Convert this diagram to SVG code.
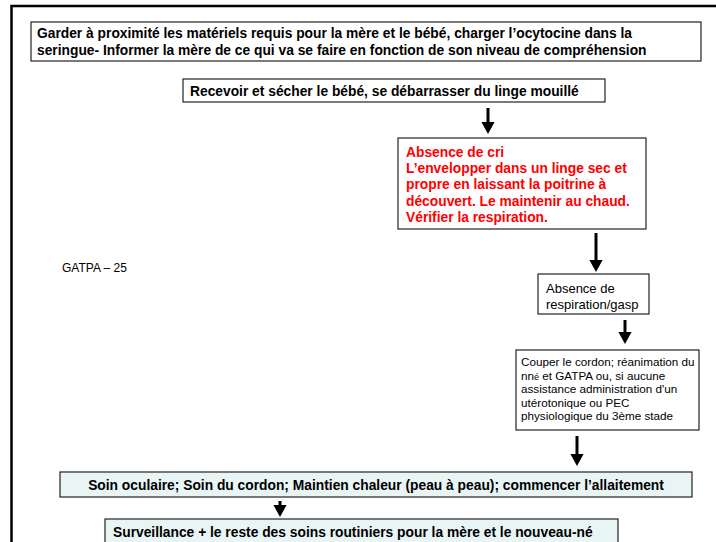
<svg xmlns="http://www.w3.org/2000/svg" width="716" height="542" viewBox="0 0 716 542">
<style>
.box{fill:#fff;stroke:#222;stroke-width:1.2}
.tint{fill:#e9f5f5;stroke:#222;stroke-width:1.2}
.b{font-family:"Liberation Sans",Arial,sans-serif;font-weight:bold;font-size:13.8px;fill:#000}
.r{font-family:"Liberation Sans",Arial,sans-serif;font-weight:bold;font-size:13.8px;fill:#ff0000}
.n{font-family:"Liberation Sans",Arial,sans-serif;font-size:13px;fill:#000}
.s{font-family:"Liberation Sans",Arial,sans-serif;font-size:11.7px;fill:#000}
.g{font-family:"Liberation Sans",Arial,sans-serif;font-size:12px;fill:#000}
.shaft{stroke:#000;stroke-width:3;fill:none}
</style>
<defs>
<marker id="ah" markerWidth="4" markerHeight="4.4" refX="0" refY="2.2" orient="auto" markerUnits="strokeWidth">
<path d="M0,0 L4,2.2 L0,4.4 Z" fill="#000"/>
</marker>
</defs>
<rect x="11.5" y="6" width="720" height="560" fill="none" stroke="#000" stroke-width="2.5"/>
<text class="g" x="62" y="272">GATPA – 25</text>
<g id="n1">
<rect class="box" x="31" y="22" width="670" height="39"/>
<text class="b" x="37" y="38">Garder à proximité les matériels requis pour la mère et le bébé, charger l’ocytocine dans la</text>
<text class="b" x="37" y="55">seringue- Informer la mère de ce qui va se faire en fonction de son niveau de compréhension</text>
</g>
<g id="n2">
<rect class="box" x="183" y="79" width="422" height="23"/>
<text class="b" x="190" y="95.5">Recevoir et sécher le bébé, se débarrasser du linge mouillé</text>
</g>
<g id="n3">
<rect class="box" x="398" y="138" width="248" height="91"/>
<text class="r" x="406" y="156.5">Absence de cri</text>
<text class="r" x="406" y="173">L’envelopper dans un linge sec et</text>
<text class="r" x="406" y="189">propre en laissant la poitrine à</text>
<text class="r" x="406" y="205.5">découvert. Le maintenir au chaud.</text>
<text class="r" x="406" y="222">Vérifier la respiration.</text>
</g>
<g id="n4">
<rect class="box" x="538" y="274" width="111" height="40"/>
<text class="n" x="546" y="293">Absence de</text>
<text class="n" x="546" y="309">respiration/gasp</text>
</g>
<g id="n5">
<rect class="box" x="516" y="350" width="183" height="80"/>
<text class="s" x="521" y="366">Couper le cordon; réanimation du</text>
<text class="s" x="521" y="379.5">nn<tspan font-size="9">é</tspan> et GATPA ou, si aucune</text>
<text class="s" x="521" y="393">assistance administration d'un</text>
<text class="s" x="521" y="406.5">utérotonique ou PEC</text>
<text class="s" x="521" y="420">physiologique du 3ème stade</text>
</g>
<g id="n6">
<rect class="tint" x="60" y="472" width="632" height="25"/>
<text class="b" x="376" y="489.5" text-anchor="middle">Soin oculaire; Soin du cordon; Maintien chaleur (peau à peau); commencer l’allaitement</text>
</g>
<g id="n7">
<rect class="tint" x="105" y="519" width="513" height="24"/>
<text class="b" x="113" y="536.5">Surveillance + le reste des soins routiniers pour la mère et le nouveau-né</text>
</g>
<g id="connectors">
<line class="shaft" x1="488" y1="108" x2="488" y2="122" marker-end="url(#ah)"/>
<line class="shaft" x1="596" y1="233" x2="596" y2="260" marker-end="url(#ah)"/>
<line class="shaft" x1="625" y1="320" x2="625" y2="332" marker-end="url(#ah)"/>
<line class="shaft" x1="577" y1="436" x2="577" y2="454" marker-end="url(#ah)"/>
<line class="shaft" x1="280" y1="501" x2="280" y2="505" marker-end="url(#ah)"/>
</g>
</svg>
